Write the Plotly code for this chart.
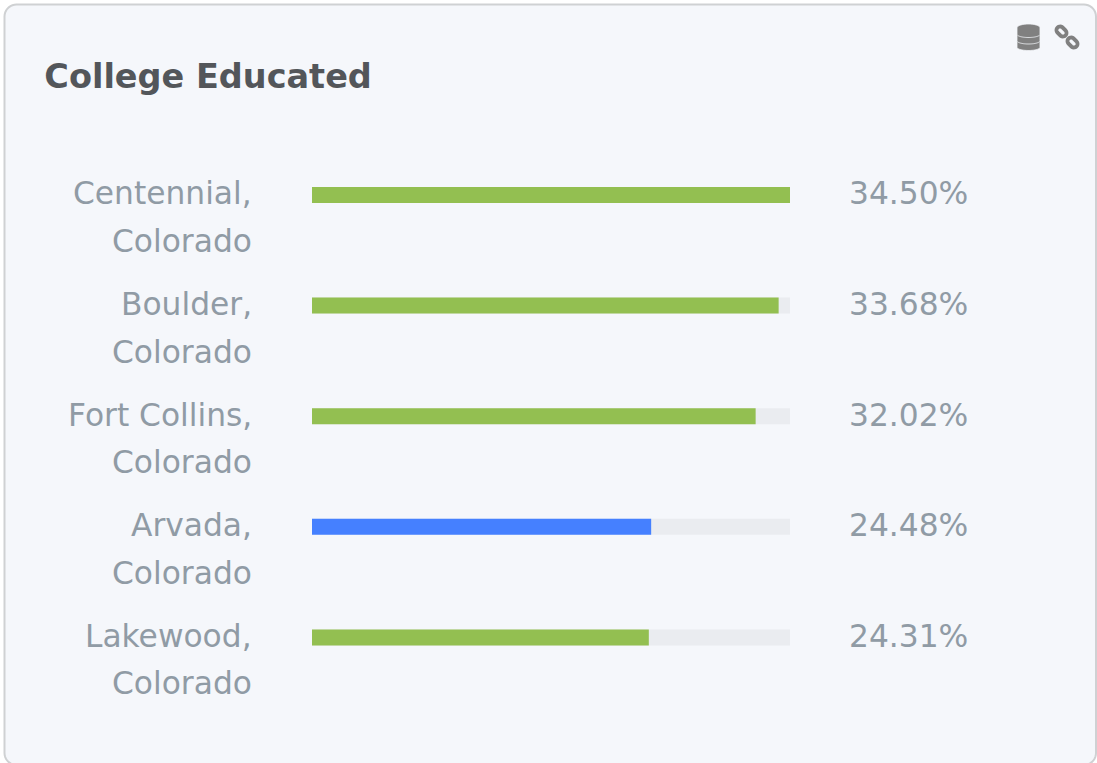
import numpy as np
import plotly.graph_objects as go

W, H = 1097, 763
title = "College Educated"
cities = ["Centennial,", "Boulder,", "Fort Collins,", "Arvada,", "Lakewood,"]
states = ["Colorado", "Colorado", "Colorado", "Colorado", "Colorado"]
values = [34.50, 33.68, 32.02, 24.48, 24.31]
bar_colors = ["#93bf51", "#93bf51", "#93bf51", "#4580ff", "#93bf51"]
track_max = 34.50

GREY = "#909ba5"
FONT = "DejaVu Sans"
ICON = "#808080"
BG = "#f5f7fb"


def px(x, y):
    return x / W, 1 - y / H


def path(points, close=True):
    s = ""
    for i, (x, y) in enumerate(points):
        a, b = px(x, y)
        s += ("M" if i == 0 else "L") + f"{a:.5f},{b:.5f} "
    return s + ("Z" if close else "")


def rounded_card(x0, y0, x1, y1, r):
    pts = []
    for cx, cy, start in [(x1 - r, y0 + r, -90), (x1 - r, y1 - r, 0), (x0 + r, y1 - r, 90), (x0 + r, y0 + r, 180)]:
        for t in np.radians(np.linspace(start, start + 90, 10)):
            pts.append((cx + r * np.cos(t), cy + r * np.sin(t)))
    return path(pts)


def ellipse(cx, cy, rx, ry, a0=0, a1=360):
    return [(cx + rx * np.cos(t), cy + ry * np.sin(t)) for t in np.radians(np.linspace(a0, a1, 40))]


def stadium(cx, cy, half, r, angle):
    c, s = np.cos(np.radians(angle)), np.sin(np.radians(angle))
    pts = []
    for ox, start in [(half, -90), (-half, 90)]:
        for t in np.radians(np.linspace(start, start + 180, 14)):
            x = ox + r * np.cos(t)
            y = r * np.sin(t)
            pts.append((cx + x * c - y * s, cy + x * s + y * c))
    return pts


shapes = [
    dict(type="path", xref="paper", yref="paper", layer="below",
         path=rounded_card(4.5, 4.5, 1096, 765, 12),
         fillcolor=BG, line=dict(color="#cfd1d3", width=2)),
]

# database icon
for top, bottom in [(38, 50.5), (31.5, 44), (24.5, 37.5)]:
    body = ellipse(1028.5, top + 3.4, 11.5, 3.9, 180, 360) + ellipse(1028.5, bottom - 3.2, 11.5, 3.2, 0, 180)
    shapes.append(dict(type="path", xref="paper", yref="paper", path=path(body),
                       fillcolor=ICON, line=dict(color=BG, width=0.8)))

# chain-link icon
for cx, cy in [(1061.5, 31.5), (1072.5, 42.5)]:
    shapes.append(dict(type="path", xref="paper", yref="paper",
                       path=path(stadium(cx, cy, 2.0, 3.6, 45)),
                       fillcolor="rgba(0,0,0,0)", line=dict(color=ICON, width=3.8)))

fig = go.Figure()
fig.add_trace(go.Bar(y=cities, x=[track_max] * len(cities), orientation="h", width=0.145,
                     marker=dict(color="#eaecf0", line=dict(width=0)), hoverinfo="skip"))
fig.add_trace(go.Bar(y=cities, x=values, orientation="h", width=0.145,
                     marker=dict(color=bar_colors, line=dict(width=0)), hoverinfo="skip"))

annotations = []
label_font = dict(family=FONT, size=31.3, color=GREY)
for city, state, value in zip(cities, states, values):
    annotations.append(dict(x=254 / W, xref="paper", y=city, yref="y", yshift=1.5, xanchor="right",
                            yanchor="middle", text=city, showarrow=False, font=label_font))
    annotations.append(dict(x=254 / W, xref="paper", y=city, yref="y", yshift=-46, xanchor="right",
                            yanchor="middle", text=state, showarrow=False, font=label_font))
    annotations.append(dict(x=847 / W, xref="paper", y=city, yref="y", yshift=1.5, xanchor="left",
                            yanchor="middle", text=f"{value:.2f}%", showarrow=False, font=label_font))

fig.update_layout(
    width=W, height=H,
    margin=dict(l=0, r=0, t=0, b=0, pad=0),
    paper_bgcolor="#ffffff", plot_bgcolor="rgba(0,0,0,0)",
    barmode="overlay", showlegend=False,
    title=dict(text=f"<b>{title}</b>", xref="paper", yref="paper", x=44.3 / W, y=1 - 76.5 / H,
               xanchor="left", yanchor="middle",
               font=dict(family=FONT, size=33.5, color="#53565a")),
    xaxis=dict(domain=[312 / W, 790 / W], range=[0, track_max], visible=False, fixedrange=True),
    yaxis=dict(domain=[1 - 692.7 / H, 1 - 139.7 / H], range=[4.5, -0.5], type="category",
               showticklabels=False, ticks="", showline=False, showgrid=False, fixedrange=True),
    shapes=shapes, annotations=annotations,
)

fig.write_html("out.html", config=dict(displayModeBar=False),
               post_script="document.body.style.margin='0';document.documentElement.style.overflow='hidden';")
